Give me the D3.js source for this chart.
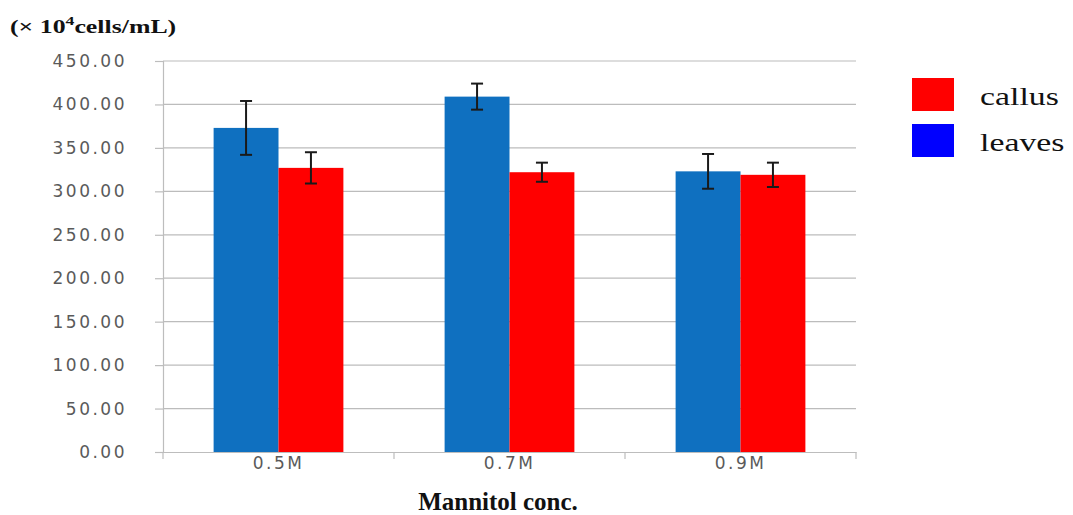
<!DOCTYPE html>
<html>
<head>
<meta charset="utf-8">
<script src="https://cdn.jsdelivr.net/npm/d3@7"></script>
<style>
    body { margin: 0; background: #fff; }
    svg { display: block; }
</style>
</head>
<body>
<div id="chart"></div>
<script>
// Cell density by mannitol concentration
const categories = ['0.5M', '0.7M', '0.9M'];
const seriesNames = ['leaves', 'callus'];
const leavesValues = [373, 409, 323];
const leavesErrors = [31, 15, 20];
const callusValues = [327, 322, 319];
const callusErrors = [18, 11, 14];
const yTicks = [0, 50, 100, 150, 200, 250, 300, 350, 400, 450];
const legendItems = [
    { name: 'callus', color: '#ff0000' },
    { name: 'leaves', color: '#0000ff' }
];

const width = 1073;
const height = 515;
const margin = { top: 61, right: 217, bottom: 63, left: 163 };
const barColors = { leaves: '#0f70c0', callus: '#ff0000' };

const svg = d3.select('#chart')
    .append('svg')
    .attr('width', width)
    .attr('height', height);

const x = d3.scaleBand()
    .domain(categories)
    .range([margin.left, width - margin.right])
    .paddingInner(0)
    .paddingOuter(0);

const xInner = d3.scaleBand()
    .domain(seriesNames)
    .range([0, x.bandwidth()])
    .paddingOuter(0.78)
    .paddingInner(0);

const y = d3.scaleLinear()
    .domain([0, 450])
    .range([height - margin.bottom, margin.top]);

// Gridlines
svg.append('g')
    .selectAll('line')
    .data(yTicks.filter(d => d > 0))
    .enter()
    .append('line')
    .attr('x1', margin.left)
    .attr('x2', width - margin.right)
    .attr('y1', d => y(d))
    .attr('y2', d => y(d))
    .attr('stroke', '#bcbcbc')
    .attr('stroke-width', 1.2);

// Y axis
const yAxis = svg.append('g')
    .attr('transform', `translate(${margin.left},0)`)
    .call(d3.axisLeft(y).tickValues(yTicks).tickSize(8).tickPadding(28).tickFormat(d3.format('.2f')));
yAxis.select('.domain').attr('stroke', '#bdbdbd').attr('stroke-width', 1.2);
yAxis.selectAll('.tick line').attr('stroke', '#bdbdbd').attr('stroke-width', 1.2);
yAxis.selectAll('.tick text')
    .attr('fill', '#5a5a5a')
    .attr('font-family', '"DejaVu Sans", sans-serif')
    .attr('font-size', '17px')
    .attr('letter-spacing', '2.5px');

// X axis
const xAxis = svg.append('g')
    .attr('transform', `translate(0,${y(0)})`)
    .call(d3.axisBottom(x).tickSize(0).tickPadding(5));
xAxis.select('.domain').attr('stroke', '#bdbdbd').attr('stroke-width', 1.2);
xAxis.selectAll('.tick text')
    .attr('fill', '#5a5a5a')
    .attr('font-family', '"DejaVu Sans", sans-serif')
    .attr('font-size', '17px')
    .attr('letter-spacing', '2.5px');

// Category boundary ticks
const boundaries = categories.map(c => x(c)).concat([x(categories[categories.length - 1]) + x.bandwidth()]);
svg.append('g')
    .selectAll('line')
    .data(boundaries)
    .enter()
    .append('line')
    .attr('x1', d => d)
    .attr('x2', d => d)
    .attr('y1', y(0))
    .attr('y2', y(0) + 7)
    .attr('stroke', '#bdbdbd')
    .attr('stroke-width', 1.2);

// Bars
const barData = [];
categories.forEach((c, i) => {
    barData.push({ cat: c, series: 'leaves', value: leavesValues[i], err: leavesErrors[i] });
    barData.push({ cat: c, series: 'callus', value: callusValues[i], err: callusErrors[i] });
});

svg.append('g')
    .selectAll('rect')
    .data(barData)
    .enter()
    .append('rect')
    .attr('x', d => x(d.cat) + xInner(d.series))
    .attr('y', d => y(d.value))
    .attr('width', xInner.bandwidth())
    .attr('height', d => y(0) - y(d.value))
    .attr('fill', d => barColors[d.series]);

// Error bars
const err = svg.append('g')
    .selectAll('g')
    .data(barData)
    .enter()
    .append('g')
    .attr('stroke', '#1a1a1a')
    .attr('stroke-width', 2);

const cx = d => x(d.cat) + xInner(d.series) + xInner.bandwidth() / 2;
err.append('line')
    .attr('x1', cx).attr('x2', cx)
    .attr('y1', d => y(d.value + d.err))
    .attr('y2', d => y(d.value - d.err));
err.append('line')
    .attr('x1', d => cx(d) - 6).attr('x2', d => cx(d) + 6)
    .attr('y1', d => y(d.value + d.err))
    .attr('y2', d => y(d.value + d.err));
err.append('line')
    .attr('x1', d => cx(d) - 6).attr('x2', d => cx(d) + 6)
    .attr('y1', d => y(d.value - d.err))
    .attr('y2', d => y(d.value - d.err));

// Y unit label (source text looks stretched sideways)
const unit = svg.append('text')
    .attr('transform', 'translate(10,33) scale(1.36,1)')
    .attr('font-family', '"Liberation Serif", "Times New Roman", serif')
    .attr('font-weight', 'bold')
    .attr('font-size', '19px')
    .attr('fill', '#111');
unit.append('tspan').text('(× 10');
unit.append('tspan').attr('dy', -8).attr('font-size', '13px').text('4');
unit.append('tspan').attr('dy', 8).text('cells/mL)');

// X title
svg.append('text')
    .attr('x', 498)
    .attr('y', 510)
    .attr('text-anchor', 'middle')
    .attr('font-family', '"Liberation Serif", "Times New Roman", serif')
    .attr('font-weight', 'bold')
    .attr('font-size', '25px')
    .attr('fill', '#111')
    .text('Mannitol conc.');

// Legend
const legend = svg.append('g')
    .attr('transform', 'translate(912,78)');
const li = legend.selectAll('g')
    .data(legendItems)
    .enter()
    .append('g')
    .attr('transform', (d, i) => `translate(0,${i * 46})`);
li.append('rect')
    .attr('width', 42)
    .attr('height', 33)
    .attr('fill', d => d.color);
li.append('text')
    .attr('transform', 'translate(68,27) scale(1.3,1)')
    .attr('font-family', '"Liberation Serif", "Times New Roman", serif')
    .attr('font-size', '26px')
    .attr('fill', '#111')
    .text(d => d.name);
</script>
</body>
</html>
